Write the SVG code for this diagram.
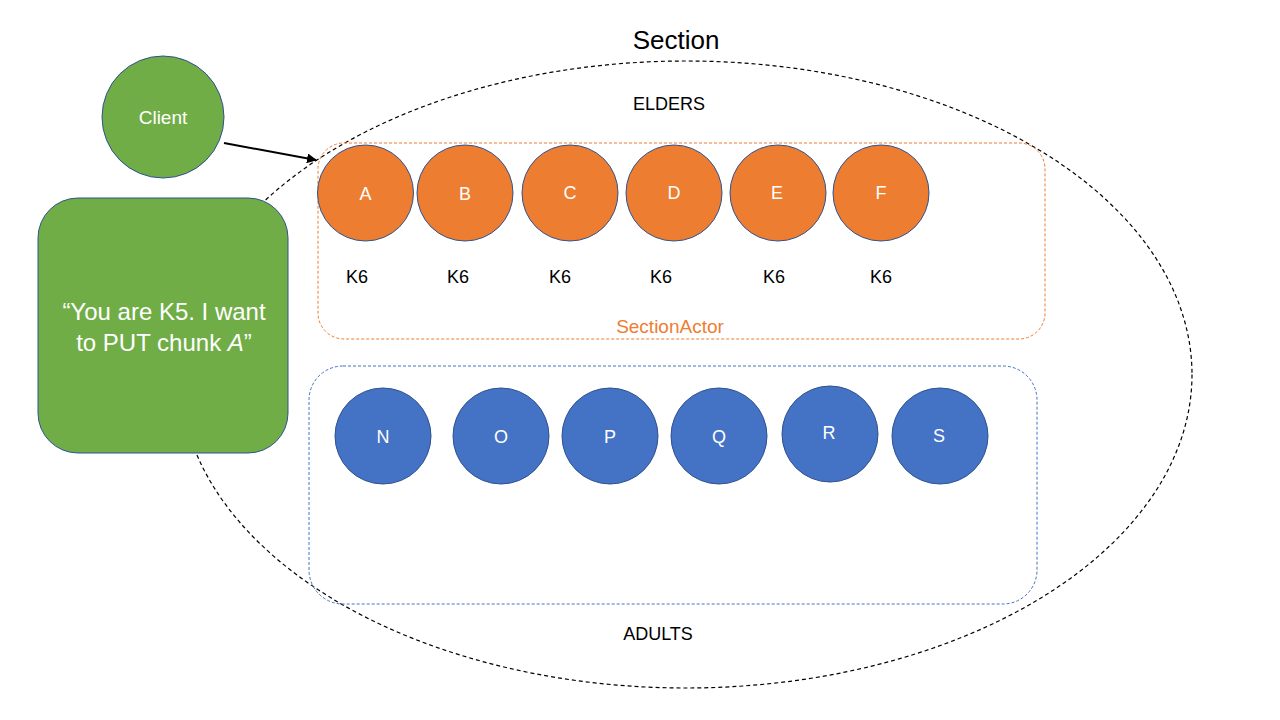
<svg xmlns="http://www.w3.org/2000/svg" width="1280" height="720" viewBox="0 0 1280 720">
<style>
text{font-family:"Liberation Sans","Open Sans",sans-serif;text-anchor:middle;dominant-baseline:central}
.lbl{font-size:18px;fill:#000}
.w{font-size:18px;fill:#fff}
.elder{fill:#ED7D31;stroke:#2F528F;stroke-width:1}
.adult{fill:#4472C4;stroke:#2F528F;stroke-width:1}
</style>
<defs>
<marker id="ah" viewBox="0 0 10 10" refX="9" refY="5" markerWidth="5" markerHeight="5" orient="auto" markerUnits="strokeWidth">
<path d="M0,0 L10,5 L0,10 z" fill="#000"/>
</marker>
</defs>
<rect width="1280" height="720" fill="#fff"/>
<g id="section">
<ellipse cx="686" cy="374.5" rx="506" ry="313.5" fill="none" stroke="#000" stroke-width="1.2" stroke-dasharray="4,3"/>
<text x="676" y="40" style="font-size:26px">Section</text>
<text class="lbl" x="669" y="104">ELDERS</text>
<text class="lbl" x="658" y="634">ADULTS</text>
</g>
<g id="elders-box">
<rect x="318" y="143" width="727" height="196" rx="26" fill="none" stroke="#ED7D31" stroke-width="1" stroke-dasharray="3,2"/>
<text x="670" y="326" style="font-size:19px;fill:#ED7D31">SectionActor</text>
</g>
<g id="adults-box">
<rect x="309" y="366" width="728" height="238" rx="34" fill="none" stroke="#4472C4" stroke-width="1" stroke-dasharray="3,2"/>
</g>
<g id="client">
<circle cx="163" cy="117" r="61" fill="#70AD47" stroke="#2F528F" stroke-width="1"/>
<text class="w" x="163" y="117" style="font-size:19px">Client</text>
</g>
<g id="message">
<rect x="38" y="198" width="250" height="255" rx="40" fill="#70AD47" stroke="#2F528F" stroke-width="1"/>
<text x="164" y="311" style="font-size:24px;fill:#fff">“You are K5. I want</text>
<text x="164" y="342" style="font-size:24px;fill:#fff">to PUT chunk <tspan font-style="italic">A</tspan>”</text>
</g>
<g id="connectors">
<line x1="224" y1="143" x2="316" y2="160" stroke="#000" stroke-width="2" marker-end="url(#ah)"/>
</g>
<g id="A"><circle class="elder" cx="365.5" cy="193" r="48"/><text class="w" x="365.5" y="194">A</text><text class="lbl" x="357" y="277">K6</text></g>
<g id="B"><circle class="elder" cx="465" cy="193" r="48"/><text class="w" x="465" y="194">B</text><text class="lbl" x="458" y="277">K6</text></g>
<g id="C"><circle class="elder" cx="570" cy="193" r="48"/><text class="w" x="570" y="193">C</text><text class="lbl" x="560" y="277">K6</text></g>
<g id="D"><circle class="elder" cx="674" cy="193" r="48"/><text class="w" x="674" y="193">D</text><text class="lbl" x="661" y="277">K6</text></g>
<g id="E"><circle class="elder" cx="778" cy="193" r="48"/><text class="w" x="777" y="193">E</text><text class="lbl" x="774" y="277">K6</text></g>
<g id="F"><circle class="elder" cx="881" cy="193" r="48"/><text class="w" x="881" y="193">F</text><text class="lbl" x="881" y="277">K6</text></g>
<g id="N"><circle class="adult" cx="383" cy="436" r="48"/><text class="w" x="383" y="437">N</text></g>
<g id="O"><circle class="adult" cx="501" cy="436" r="48"/><text class="w" x="501" y="437">O</text></g>
<g id="P"><circle class="adult" cx="610" cy="436" r="48"/><text class="w" x="610" y="437">P</text></g>
<g id="Q"><circle class="adult" cx="719" cy="436" r="48"/><text class="w" x="719" y="437">Q</text></g>
<g id="R"><circle class="adult" cx="830" cy="434" r="48"/><text class="w" x="829" y="433">R</text></g>
<g id="S"><circle class="adult" cx="940" cy="436" r="48"/><text class="w" x="939" y="436">S</text></g>
</svg>
